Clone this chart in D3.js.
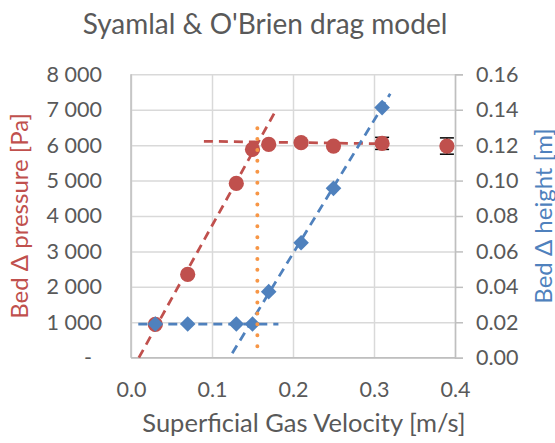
<!DOCTYPE html>
<html>
<head>
<meta charset="utf-8">
<script src="https://cdn.jsdelivr.net/npm/d3@7"></script>
<style>
  body { margin: 0; background: #fff; }
  text { font-family: Lato, "Open Sans", sans-serif; fill: #595959; }
</style>
</head>
<body>
<div id="chart"></div>
<script>
// Data
const pressureVelocity = [0.03, 0.07, 0.13, 0.15, 0.17, 0.21, 0.25, 0.31, 0.39]
const bedPressure = [940, 2350, 4920, 5880, 6020, 6070, 5975, 6050, 5975]
const pressureError = [0, 0, 0, 0, 0, 0, 0, 170, 230]
const heightVelocity = [0.03, 0.07, 0.13, 0.15, 0.17, 0.21, 0.25, 0.31]
const bedHeight = [0.019, 0.019, 0.019, 0.019, 0.0373, 0.0649, 0.0956, 0.1412]

// Trend lines, end points [velocity, value]
const pressureRiseTrend = [[0.0097, 0], [0.18, 7030]]
const pressureFlatTrend = [[0.09, 6110], [0.31, 6040]]
const heightFlatTrend = [[0.009, 0.019], [0.182, 0.019]]
const heightRiseTrend = [[0.125, 0.0025], [0.32, 0.149]]
// minimum fluidisation velocity marker (on pressure axis)
const minFluidLine = [[0.156, 300], [0.156, 6480]]

// Tick labels
const velocityTicks = [0, 0.1, 0.2, 0.3, 0.4]
const pressureTicks = [0, 1000, 2000, 3000, 4000, 5000, 6000, 7000, 8000]
const heightTicks = [0, 0.02, 0.04, 0.06, 0.08, 0.10, 0.12, 0.14, 0.16]

const width = 555, height = 443
const margin = {top: 74.3, right: 100, bottom: 85.3, left: 131}
const red = "#C0504D", blue = "#4F81BD", orange = "#F79646"
const gridColor = "#D9D9D9", axisColor = "#BFBFBF"

const svg = d3.select("#chart").append("svg")
    .attr("width", width)
    .attr("height", height)

const x = d3.scaleLinear().domain([0, 0.4]).range([margin.left, width - margin.right])
const yP = d3.scaleLinear().domain([0, 8000]).range([height - margin.bottom, margin.top])
const yH = d3.scaleLinear().domain([0, 0.16]).range([height - margin.bottom, margin.top])

const locale = d3.formatLocale({decimal: ".", thousands: " ", grouping: [3], currency: ["", ""]})
const fmtP = locale.format(",")

// Horizontal gridlines + left labels
const leftAxis = svg.append("g")
    .attr("transform", "translate(" + margin.left + ",0)")
    .call(d3.axisLeft(yP).tickValues(pressureTicks)
      .tickSize(-(x.range()[1] - x.range()[0]))
      .tickPadding(29)
      .tickFormat(d => d === 0 ? "-" : fmtP(d)))
leftAxis.select(".domain").remove()
leftAxis.selectAll(".tick line").attr("stroke", gridColor).attr("stroke-width", 1.5)
leftAxis.selectAll(".tick text")
    .attr("font-size", "21.5px").attr("fill", "#595959")
    .attr("x", d => d === 0 ? -39 : -29)

// Vertical gridlines + bottom labels
const bottomAxis = svg.append("g")
    .attr("transform", "translate(0," + yP(0) + ")")
    .call(d3.axisBottom(x).tickValues(velocityTicks)
      .tickSize(-(yP.range()[0] - yP.range()[1]))
      .tickPadding(0)
      .tickFormat(d3.format(".1f")))
bottomAxis.select(".domain").remove()
bottomAxis.selectAll(".tick line").attr("stroke", gridColor).attr("stroke-width", 1.5)
bottomAxis.selectAll(".tick text")
    .attr("font-size", "21.5px").attr("fill", "#595959")
    .attr("y", 39).attr("dy", 0)

// Right axis
const rightAxis = svg.append("g")
    .attr("transform", "translate(" + x(0.4) + ",0)")
    .call(d3.axisRight(yH).tickValues(heightTicks)
      .tickSize(8).tickPadding(13)
      .tickFormat(d3.format(".2f")))
rightAxis.select(".domain").attr("stroke", axisColor).attr("stroke-width", 1.5)
rightAxis.selectAll(".tick line").attr("stroke", axisColor).attr("stroke-width", 1.5)
rightAxis.selectAll(".tick text").attr("font-size", "21.5px").attr("fill", "#595959")

// Left and bottom axis lines
svg.append("line")
    .attr("x1", x(0)).attr("x2", x(0)).attr("y1", yP(0)).attr("y2", yP(8000))
    .attr("stroke", axisColor).attr("stroke-width", 1.5)
svg.append("line")
    .attr("x1", x(0)).attr("x2", x(0.4)).attr("y1", yP(0)).attr("y2", yP(0))
    .attr("stroke", axisColor).attr("stroke-width", 1.5)

const lineP = d3.line().x(d => x(d[0])).y(d => yP(d[1]))
const lineH = d3.line().x(d => x(d[0])).y(d => yH(d[1]))

// Pressure series
const pSeries = svg.append("g")
;[pressureRiseTrend, pressureFlatTrend].forEach(t => {
  pSeries.append("path").attr("d", lineP(t))
    .attr("fill", "none").attr("stroke", red)
    .attr("stroke-width", 2.75).attr("stroke-dasharray", "9,6")
})

const pData = pressureVelocity.map((v, i) => ({v: v, p: bedPressure[i], e: pressureError[i]}))
const err = pSeries.selectAll(".err").data(pData.filter(d => d.e > 0)).enter().append("g")
    .attr("stroke", "#000").attr("stroke-width", 1.5)
err.append("line")
    .attr("x1", d => x(d.v)).attr("x2", d => x(d.v))
    .attr("y1", d => yP(d.p - d.e)).attr("y2", d => yP(d.p + d.e))
err.append("line")
    .attr("x1", d => x(d.v) - 7).attr("x2", d => x(d.v) + 7)
    .attr("y1", d => yP(d.p - d.e)).attr("y2", d => yP(d.p - d.e))
err.append("line")
    .attr("x1", d => x(d.v) - 7).attr("x2", d => x(d.v) + 7)
    .attr("y1", d => yP(d.p + d.e)).attr("y2", d => yP(d.p + d.e))

pSeries.selectAll("circle").data(pData).enter().append("circle")
    .attr("cx", d => x(d.v)).attr("cy", d => yP(d.p))
    .attr("r", 7.6).attr("fill", red)

// Height series
const hSeries = svg.append("g")
;[heightFlatTrend, heightRiseTrend].forEach(t => {
  hSeries.append("path").attr("d", lineH(t))
    .attr("fill", "none").attr("stroke", blue)
    .attr("stroke-width", 2.75).attr("stroke-dasharray", "9,6")
})
const dr = 7.8
hSeries.selectAll(".diamond").data(heightVelocity.map((v, i) => [v, bedHeight[i]])).enter()
  .append("path")
    .attr("class", "diamond")
    .attr("d", "M0," + (-dr) + "L" + dr + ",0L0," + dr + "L" + (-dr) + ",0Z")
    .attr("transform", d => "translate(" + x(d[0]) + "," + yH(d[1]) + ")")
    .attr("fill", blue)

// Orange dotted marker line
svg.append("path").attr("d", lineP(minFluidLine.slice().reverse()))
    .attr("fill", "none").attr("stroke", orange)
    .attr("stroke-width", 4).attr("stroke-linecap", "round")
    .attr("stroke-dasharray", "0,10.9")

// Titles
svg.append("text")
    .attr("x", 265).attr("y", 33.5)
    .attr("text-anchor", "middle")
    .attr("font-size", "28px")
    .text("Syamlal & O'Brien drag model")

svg.append("text")
    .attr("x", 304).attr("y", 432)
    .attr("text-anchor", "middle")
    .attr("font-size", "25.5px")
    .text("Superficial Gas Velocity [m/s]")

svg.append("text")
    .attr("transform", "translate(27.5," + (yP(4000)) + ") rotate(-90)")
    .attr("text-anchor", "middle")
    .attr("font-size", "24px")
    .style("fill", red)
    .text("Bed \u0394 pressure [Pa]")

svg.append("text")
    .attr("transform", "translate(551.5," + (yP(4000)) + ") rotate(-90)")
    .attr("text-anchor", "middle")
    .attr("font-size", "24px")
    .style("fill", blue)
    .text("Bed \u0394 height [m]")
</script>
</body>
</html>
